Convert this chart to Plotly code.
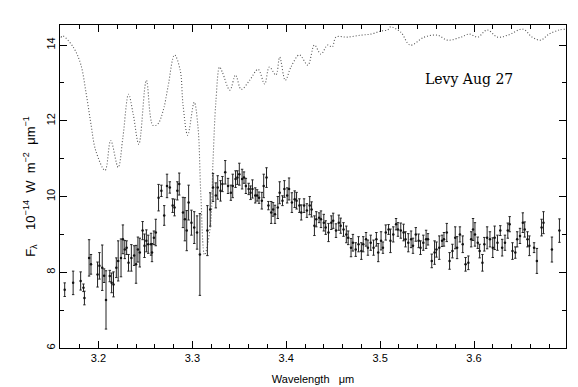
import plotly.graph_objects as go

# atmospheric transmission (dotted curve), scaled to flux axis
atm_wl = [3.160, 3.162, 3.173, 3.181, 3.187, 3.192, 3.197, 3.207, 3.213, 3.221,
          3.226, 3.232, 3.237, 3.243, 3.251, 3.258, 3.263, 3.269, 3.274, 3.281,
          3.287, 3.290, 3.295, 3.302, 3.306, 3.309, 3.313, 3.319, 3.322, 3.325,
          3.329, 3.332, 3.340, 3.346, 3.352, 3.361, 3.370, 3.377, 3.382, 3.389,
          3.393, 3.399, 3.405, 3.414, 3.423, 3.430, 3.437, 3.444, 3.449, 3.453,
          3.465, 3.479, 3.490, 3.501, 3.508, 3.511, 3.522, 3.532, 3.547, 3.561,
          3.572, 3.586, 3.595, 3.604, 3.614, 3.625, 3.636, 3.652, 3.662, 3.671,
          3.680, 3.691, 3.697]
atm_flux = [14.20, 14.24, 13.95, 13.50, 12.70, 11.91, 11.22, 10.69, 11.48, 10.77,
            11.56, 12.70, 12.17, 11.38, 13.07, 11.88, 11.91, 12.28, 12.89, 13.74,
            13.34, 12.44, 11.62, 12.49, 11.83, 10.05, 8.46, 9.18, 10.95, 12.49,
            13.42, 13.28, 12.81, 13.21, 12.83, 13.07, 13.36, 12.97, 13.42, 13.21,
            13.68, 13.07, 13.42, 13.74, 13.47, 14.00, 13.76, 14.00, 13.95, 14.21,
            14.21, 14.26, 14.29, 14.37, 14.40, 14.48, 14.34, 14.00, 14.21, 14.26,
            14.13, 14.21, 14.29, 14.21, 14.40, 14.21, 14.26, 14.42, 14.21, 14.13,
            14.29, 14.40, 14.42]

# comet spectrum
wl = [3.164, 3.173, 3.181, 3.184, 3.185, 3.190, 3.192, 3.199, 3.201, 3.204,
      3.206, 3.208, 3.212, 3.214, 3.216, 3.219, 3.221, 3.224, 3.226, 3.228,
      3.230, 3.232, 3.235, 3.238, 3.240, 3.242, 3.244, 3.247, 3.249, 3.251,
      3.253, 3.256, 3.257, 3.259, 3.261, 3.264, 3.267, 3.270, 3.273, 3.276,
      3.279, 3.281, 3.284, 3.286, 3.290, 3.292, 3.294, 3.296, 3.299, 3.302,
      3.305, 3.308, 3.316, 3.319, 3.322, 3.325, 3.327, 3.330, 3.332, 3.335,
      3.338, 3.341, 3.343, 3.346, 3.348, 3.350, 3.353, 3.355, 3.357, 3.360,
      3.362, 3.364, 3.367, 3.369, 3.371, 3.374, 3.376, 3.379, 3.381, 3.384,
      3.386, 3.388, 3.391, 3.393, 3.396, 3.398, 3.401, 3.403, 3.406, 3.409,
      3.411, 3.414, 3.416, 3.419, 3.422, 3.425, 3.427, 3.430, 3.432, 3.435,
      3.437, 3.440, 3.442, 3.445, 3.448, 3.450, 3.453, 3.456, 3.458, 3.461,
      3.464, 3.466, 3.469, 3.471, 3.474, 3.477, 3.480, 3.482, 3.485, 3.487,
      3.490, 3.493, 3.496, 3.498, 3.501, 3.503, 3.506, 3.509, 3.511, 3.514,
      3.517, 3.519, 3.522, 3.525, 3.527, 3.530, 3.533, 3.535, 3.538, 3.541,
      3.543, 3.546, 3.549, 3.551, 3.555, 3.558, 3.560, 3.563, 3.566, 3.568,
      3.571, 3.574, 3.577, 3.580, 3.582, 3.585, 3.588, 3.591, 3.594, 3.597,
      3.599, 3.601, 3.604, 3.606, 3.609, 3.611, 3.614, 3.617, 3.620, 3.622,
      3.625, 3.628, 3.630, 3.633, 3.636, 3.638, 3.641, 3.644, 3.646, 3.649,
      3.652, 3.654, 3.657, 3.659, 3.664, 3.667, 3.672, 3.674, 3.683, 3.691]
flux = [7.54, 7.72, 7.77, 7.59, 7.32, 8.38, 8.21, 7.94, 8.17, 8.12,
        7.91, 7.27, 7.90, 7.72, 7.68, 8.12, 8.30, 8.38, 8.87, 8.60,
        8.65, 8.25, 8.38, 8.44, 8.21, 8.60, 8.52, 9.10, 8.70, 8.83,
        8.74, 8.74, 8.52, 8.91, 9.05, 9.97, 10.15, 9.50, 10.28, 10.24,
        9.76, 9.71, 10.15, 10.33, 9.58, 9.40, 9.10, 9.84, 9.31, 9.18,
        9.05, 8.47, 9.10, 9.66, 10.24, 10.03, 10.24, 10.15, 10.33, 10.64,
        10.28, 10.10, 10.28, 10.46, 10.50, 10.59, 10.46, 10.50, 10.28, 10.20,
        10.10, 10.20, 10.03, 10.03, 9.97, 9.89, 10.28, 10.50, 9.76, 9.58,
        9.66, 9.53, 9.71, 10.10, 9.89, 10.20, 10.03, 10.20, 9.84, 9.93,
        9.89, 9.76, 9.58, 9.76, 9.63, 9.76, 9.66, 9.23, 9.40, 9.44,
        9.40, 9.31, 9.18, 9.05, 9.31, 9.36, 9.10, 9.31, 9.23, 9.13,
        9.00, 8.91, 8.65, 8.78, 8.60, 8.74, 8.56, 8.74, 8.87, 8.65,
        8.78, 8.65, 8.87, 8.52, 8.83, 8.65, 9.05, 9.13, 8.83, 9.00,
        9.27, 9.13, 9.10, 9.05, 8.87, 8.78, 8.87, 8.70, 9.00, 8.83,
        8.65, 8.78, 8.87, 8.87, 8.30, 8.52, 8.60, 8.65, 8.83, 8.87,
        9.05, 8.30, 8.56, 8.91, 8.65, 9.00, 8.74, 8.21, 8.25, 8.87,
        9.13, 9.00, 8.78, 8.56, 8.25, 8.74, 8.91, 8.87, 8.65, 8.91,
        8.78, 9.10, 8.65, 8.78, 9.10, 9.27, 8.56, 8.52, 8.87, 8.96,
        9.31, 9.13, 8.87, 8.70, 8.65, 8.30, 9.18, 9.31, 8.60, 9.10]
err = [0.18, 0.31, 0.24, 0.10, 0.18, 0.48, 0.26, 0.33, 0.35, 0.60,
       0.18, 0.77, 0.15, 0.26, 0.33, 0.26, 0.53, 0.50, 0.38, 0.24,
       0.18, 0.22, 0.35, 0.26, 0.50, 0.33, 0.38, 0.24, 0.31, 0.29,
       0.24, 0.29, 0.24, 0.18, 0.35, 0.35, 0.15, 0.26, 0.31, 0.15,
       0.18, 0.22, 0.24, 0.29, 0.40, 0.57, 0.53, 0.46, 0.33, 0.42,
       0.44, 1.08, 0.66, 0.44, 0.37, 0.33, 0.31, 0.27, 0.20, 0.31,
       0.20, 0.20, 0.31, 0.22, 0.18, 0.29, 0.26, 0.15, 0.20, 0.15,
       0.18, 0.24, 0.20, 0.15, 0.15, 0.22, 0.31, 0.26, 0.11, 0.29,
       0.18, 0.24, 0.29, 0.29, 0.13, 0.22, 0.20, 0.29, 0.26, 0.22,
       0.22, 0.18, 0.20, 0.18, 0.18, 0.24, 0.20, 0.26, 0.20, 0.13,
       0.22, 0.22, 0.18, 0.24, 0.18, 0.20, 0.18, 0.20, 0.20, 0.18,
       0.22, 0.18, 0.24, 0.22, 0.18, 0.20, 0.22, 0.20, 0.18, 0.20,
       0.20, 0.20, 0.18, 0.24, 0.24, 0.15, 0.20, 0.13, 0.31, 0.20,
       0.15, 0.18, 0.20, 0.22, 0.20, 0.24, 0.22, 0.20, 0.18, 0.18,
       0.18, 0.20, 0.24, 0.15, 0.18, 0.31, 0.20, 0.31, 0.15, 0.18,
       0.24, 0.22, 0.18, 0.29, 0.29, 0.20, 0.22, 0.18, 0.18, 0.20,
       0.29, 0.31, 0.15, 0.18, 0.22, 0.18, 0.29, 0.20, 0.26, 0.31,
       0.20, 0.13, 0.22, 0.20, 0.20, 0.20, 0.22, 0.15, 0.20, 0.20,
       0.26, 0.20, 0.20, 0.26, 0.13, 0.33, 0.22, 0.29, 0.33, 0.31]

x_ticks = [3.2, 3.3, 3.4, 3.5, 3.6]
y_ticks = [6, 8, 10, 12, 14]

fig = go.Figure()

fig.add_trace(go.Scatter(x=atm_wl, y=atm_flux, mode="lines",
                         line=dict(color="#555", width=1.1, dash="1px,2px"),
                         line_shape="spline", hoverinfo="skip"))

fig.add_trace(go.Scatter(x=wl, y=flux, mode="markers",
                         marker=dict(color="#111", size=2.5),
                         error_y=dict(type="data", array=err, color="#222",
                                      thickness=1, width=1.2)))

fig.add_annotation(x=3.595, y=13.1, text="Levy Aug 27", showarrow=False,
                   font=dict(family="DejaVu Serif", size=14, color="black"))

axis_common = dict(showline=True, linecolor="black", linewidth=1, mirror="ticks",
                   ticks="inside", tickcolor="black", ticklen=7, showgrid=False,
                   zeroline=False, tickfont=dict(family="Liberation Sans", size=11, color="black"))

fig.update_xaxes(range=[3.159, 3.698], tickvals=x_ticks,
                 ticktext=[str(v) for v in x_ticks],
                 minor=dict(ticks="inside", ticklen=4, tickcolor="black",
                            tick0=3.2, dtick=0.02),
                 title=dict(text="Wavelength\u00a0\u00a0\u00a0\u03bcm", standoff=12,
                            font=dict(family="Liberation Sans", size=11, color="black")),
                 **axis_common)
nb = "\u00a0"
y_title = ("F<sub>\u03bb</sub>" + nb * 4 + "10<sup>\u221214</sup>" + nb * 2 + "W" + nb * 2
           + "m<sup>\u22122</sup>" + nb * 2 + "\u03bcm<sup>\u22121</sup>")
fig.update_yaxes(range=[6, 14.53], tickvals=y_ticks, tickangle=-90,
                 minor=dict(ticks="inside", ticklen=4, tickcolor="black",
                            tick0=6, dtick=1),
                 title=dict(text=y_title, standoff=6,
                            font=dict(family="Liberation Sans", size=13, color="black")),
                 **axis_common)

fig.update_layout(width=578, height=387, showlegend=False,
                  paper_bgcolor="white", plot_bgcolor="white",
                  margin=dict(l=52, r=20, t=17, b=47))

fig.write_html("out.html")
